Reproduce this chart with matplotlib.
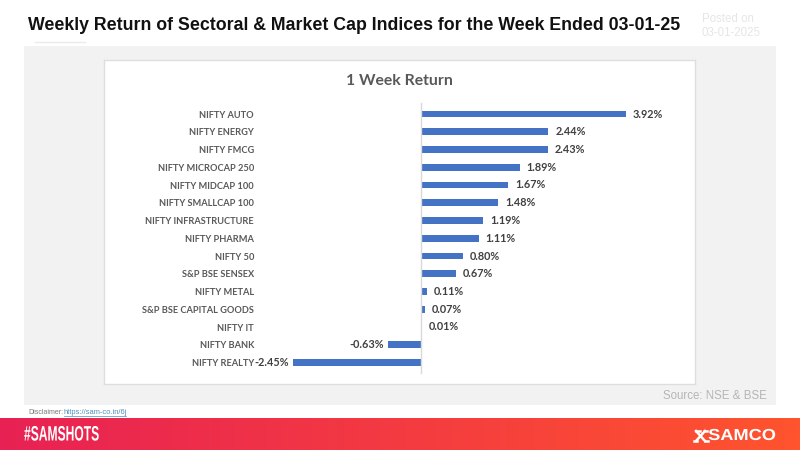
import numpy as np
import matplotlib
matplotlib.use("Agg")
import matplotlib.pyplot as plt
import matplotlib.patheffects as pe
from matplotlib.patches import Rectangle
from matplotlib.lines import Line2D
from matplotlib.transforms import Affine2D

categories = ["NIFTY AUTO", "NIFTY ENERGY", "NIFTY FMCG", "NIFTY MICROCAP 250",
              "NIFTY MIDCAP 100", "NIFTY SMALLCAP 100", "NIFTY INFRASTRUCTURE",
              "NIFTY PHARMA", "NIFTY 50", "S&P BSE SENSEX", "NIFTY METAL",
              "S&P BSE CAPITAL GOODS", "NIFTY IT", "NIFTY BANK", "NIFTY REALTY"]
returns = [3.92, 2.44, 2.43, 1.89, 1.67, 1.48, 1.19, 1.11, 0.80, 0.67, 0.11, 0.07, 0.01, -0.63, -2.45]

W, H = 800, 450


class StretchX(pe.AbstractPathEffect):
    # squeeze or widen text horizontally around a pixel x, for the logo style fonts
    def __init__(self, sx, x0):
        super().__init__()
        self.sx = sx
        self.x0 = x0

    def draw_path(self, renderer, gc, tpath, affine, rgbFace=None):
        stretch = Affine2D().translate(-self.x0, 0).scale(self.sx, 1).translate(self.x0, 0)
        renderer.draw_path(gc, tpath, affine + stretch, rgbFace)


def px_box(x0, y0, x1, y1):
    # pixel box (y from top) to figure fractions
    return [x0 / W, 1 - y1 / H, (x1 - x0) / W, (y1 - y0) / H]


fig = plt.figure(figsize=(8, 4.5), dpi=100, facecolor="white")

# grey panel behind the chart
fig.patches.append(Rectangle((24 / W, 1 - 405 / H), 752 / W, 359 / H, transform=fig.transFigure,
                             facecolor="#f2f2f2", edgecolor="none"))
fig.add_artist(Line2D([35 / W, 85 / W], [1 - 42 / H, 1 - 42 / H], color="#efeae6", lw=1))

# footer gradient
foot = fig.add_axes(px_box(0, 418, 800, 450))
grad = np.linspace(0, 1, 256).reshape(1, -1, 1)
left = np.array([232, 33, 84]) / 255
right = np.array([255, 84, 46]) / 255
foot.imshow(left + grad * (right - left), aspect="auto", extent=[0, 800, 450, 418])
foot.axis("off")

# chart box, limits worked out from the pixel scale of the bars
ax = fig.add_axes(px_box(104, 60, 695, 384), zorder=2)
ax.set_xlim((104 - 421) / 52.2, (695 - 421) / 52.2)
ax.set_ylim((384 - 114) / 17.75, (60 - 114) / 17.75)
ax.set_facecolor("white")
for s in ax.spines.values():
    s.set_color("#dedede")
    s.set_linewidth(1)
ax.set_xticks([])
ax.set_yticks([])

ypos = np.arange(len(categories))
ax.barh(ypos, returns, height=0.38, color="#4472c4")
ax.plot([0, 0], [-0.6, 14.6], color="#d9d9d9", lw=1, zorder=1)

chart_font = "Lato"
for i, (name, val) in enumerate(zip(categories, returns)):
    ax.text((254 - 421) / 52.2, i + 0.06, name, ha="right", va="center", fontsize=6.7,
            family=chart_font, fontweight="bold", color="#595959")
    if val >= 0:
        ax.text(val + 0.13, i, f"{val:.2f}%", ha="left", va="center", fontsize=7.8,
                family=chart_font, fontweight="bold", color="#404040")
    else:
        ax.text(val - 0.09, i, f"{val:.2f}%", ha="right", va="center", fontsize=7.8,
                family=chart_font, fontweight="bold", color="#404040")
ax.text(0.5, 0.935, "1 Week Return", transform=ax.transAxes, ha="center", va="center",
        fontsize=11.3, family=chart_font, fontweight="bold", color="#595959")

# header and footer text
fig.text(28 / W, 1 - 25 / H, "Weekly Return of Sectoral & Market Cap Indices for the Week Ended 03-01-25",
         ha="left", va="center", fontsize=12.8, fontweight="bold", family="Liberation Sans", color="#111111")
fig.text(702 / W, 1 - 19 / H, "Posted on", ha="left", va="center", fontsize=8.3, family="Liberation Sans", color="#e6e6e6")
fig.text(702 / W, 1 - 32.5 / H, "03-01-2025", ha="left", va="center", fontsize=8.3, family="Liberation Sans", color="#e6e6e6")
fig.text(767 / W, 1 - 396 / H, "Source: NSE & BSE", ha="right", va="center", fontsize=8.3,
         family="Liberation Sans", color="#b5b5b5", zorder=3)
fig.text(28 / W, 1 - 412.5 / H, "Disclaimer:", ha="left", va="center", fontsize=5, family="Liberation Sans", color="#777777")
fig.text(64 / W, 1 - 412.5 / H, "https://sam-co.in/6j", ha="left", va="center", fontsize=5.4,
         family="Liberation Sans", color="#4a90b8")
fig.add_artist(Line2D([64 / W, 126 / W], [1 - 415.5 / H, 1 - 415.5 / H], color="#4a90b8", lw=0.5))

tag = fig.text(24 / W, 1 - 435 / H, "#SAMSHOTS", ha="left", va="center", fontsize=15, fontweight="bold",
               family="Liberation Sans", color="white", zorder=5)
tag.set_path_effects([StretchX(0.58, 24)])
logo = fig.text(776 / W, 1 - 435.5 / H, "SAMCO", ha="right", va="center", fontsize=11.5, fontweight="bold",
                family="Liberation Sans", color="white", zorder=5)
logo.set_path_effects([StretchX(1.14, 776)])

# logo mark drawn as strokes
for xs, ys in [([696, 705], [431, 441]), ([705, 696], [431, 441]), ([696, 700], [431, 431]),
               ([705, 708], [441, 441]), ([694, 697], [441, 441]), ([704, 707], [431, 431])]:
    fig.add_artist(Line2D([x / W for x in xs], [1 - y / H for y in ys], color="white", lw=1.8, zorder=5))

fig.savefig("out.png", dpi=100)
